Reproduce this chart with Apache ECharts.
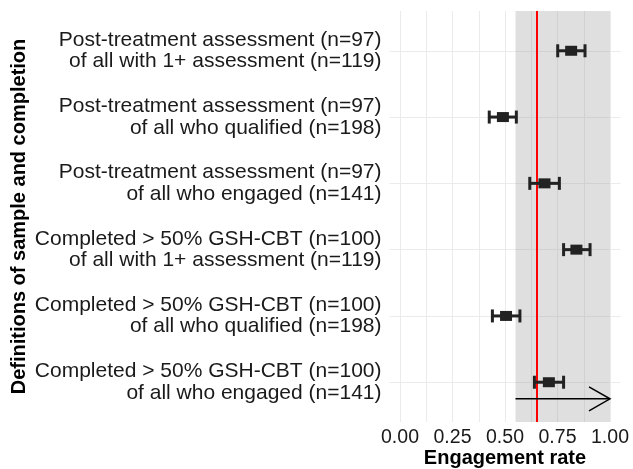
<!DOCTYPE html>
<html>
<head>
<meta charset="utf-8">
<script src="https://cdn.jsdelivr.net/npm/echarts@6/dist/echarts.min.js"></script>
<style>html,body{margin:0;padding:0;background:#fff}#c{width:633px;height:469px}</style>
</head>
<body>
<div id="c"></div>
<script>
var categories = [
  "Post-treatment assessment (n=97)\nof all with 1+ assessment (n=119)",
  "Post-treatment assessment (n=97)\nof all who qualified (n=198)",
  "Post-treatment assessment (n=97)\nof all who engaged (n=141)",
  "Completed > 50% GSH-CBT (n=100)\nof all with 1+ assessment (n=119)",
  "Completed > 50% GSH-CBT (n=100)\nof all who qualified (n=198)",
  "Completed > 50% GSH-CBT (n=100)\nof all who engaged (n=141)"
];
var rates = [0.815, 0.490, 0.688, 0.840, 0.505, 0.709];
var lower = [0.751, 0.425, 0.618, 0.779, 0.440, 0.640];
var upper = [0.881, 0.554, 0.759, 0.905, 0.571, 0.779];
var xTickLabels = [0, 0.25, 0.5, 0.75, 1.0];
var xGridValues = [0, 0.125, 0.25, 0.375, 0.5, 0.625, 0.75, 0.875, 1.0];
var shadeRange = [0.55, 1.0];
var refLine = 0.65;
var arrowData = [[0.55, 1.0, 0.75]];

var n = categories.length;
var rowPos = categories.map(function (_, i) { return n - i; });
var font = "'Liberation Sans', Arial, sans-serif";

var chart = echarts.init(document.getElementById('c'), null, {renderer: 'canvas'});
chart.setOption({
  animation: false,
  backgroundColor: '#ffffff',
  grid: {left: 389.5, right: 12.5, top: 11, bottom: 47, containLabel: false, outerBoundsMode: 'none'},
  xAxis: {
    type: 'value', min: -0.05, max: 1.05,
    name: 'Engagement rate', nameLocation: 'middle', nameGap: 26, nameMoveOverlap: false,
    nameTextStyle: {fontFamily: font, fontSize: 20, fontWeight: 'bold', color: '#000'},
    axisLine: {show: false},
    axisTick: {show: false, customValues: xGridValues},
    axisLabel: {customValues: xTickLabels, fontFamily: font, fontSize: 19.5, color: '#1a1a1a', margin: 6,
      formatter: function (v) { return v.toFixed(2); }},
    splitLine: {show: true, lineStyle: {color: '#ebebeb', width: 1}}
  },
  yAxis: {
    type: 'value', min: 0.4, max: n + 0.6,
    name: 'Definitions of sample and completion', nameLocation: 'middle', nameGap: 360, nameMoveOverlap: false,
    nameTextStyle: {fontFamily: font, fontSize: 20, fontWeight: 'bold', color: '#000'},
    axisLine: {show: false},
    axisTick: {show: false, customValues: rowPos},
    axisLabel: {customValues: rowPos, fontFamily: font, fontSize: 21, lineHeight: 21.5, color: '#1a1a1a', margin: 8, align: 'right',
      padding: [5, 0, 0, 0],
      formatter: function (v) { return categories[n - Math.round(v)]; }},
    splitLine: {show: true, lineStyle: {color: '#ebebeb', width: 1}}
  },
  series: [
    {
      type: 'line', data: [], z: 1, silent: true,
      markArea: {silent: true, z: 1, itemStyle: {color: 'rgba(150,150,150,0.3)'},
        data: [[{xAxis: shadeRange[0]}, {xAxis: shadeRange[1]}]]},
      markLine: {silent: true, z: 2, symbol: 'none', label: {show: false},
        lineStyle: {color: '#ff0000', width: 2, type: 'solid'},
        data: [{xAxis: refLine}]}
    },
    {
      type: 'custom', z: 3, silent: true,
      data: rowPos.map(function (y, i) { return [y, lower[i], upper[i]]; }),
      encode: {x: [1, 2], y: 0},
      renderItem: function (params, api) {
        var y = api.value(0), lo = api.value(1), hi = api.value(2);
        var p1 = api.coord([lo, y]), p2 = api.coord([hi, y]);
        var h = 6.5, st = {stroke: '#222', lineWidth: 3};
        return {type: 'group', children: [
          {type: 'line', shape: {x1: p1[0], y1: p1[1], x2: p2[0], y2: p2[1]}, style: st},
          {type: 'line', shape: {x1: p1[0], y1: p1[1] - h, x2: p1[0], y2: p1[1] + h}, style: st},
          {type: 'line', shape: {x1: p2[0], y1: p2[1] - h, x2: p2[0], y2: p2[1] + h}, style: st}
        ]};
      }
    },
    {
      type: 'scatter', z: 4, silent: true,
      symbol: 'rect', symbolSize: [12, 10],
      itemStyle: {color: '#222', opacity: 1},
      data: rowPos.map(function (y, i) { return [rates[i], y]; })
    },
    {
      type: 'custom', z: 5, silent: true,
      data: arrowData,
      encode: {x: [0, 1], y: 2},
      renderItem: function (params, api) {
        var a = api.coord([api.value(0), api.value(2)]);
        var b = api.coord([api.value(1), api.value(2)]);
        var st = {stroke: '#000', lineWidth: 1.5, fill: null};
        return {type: 'group', children: [
          {type: 'line', shape: {x1: a[0], y1: a[1], x2: b[0], y2: b[1]}, style: st},
          {type: 'polyline', shape: {points: [[b[0] - 21, b[1] - 12], [b[0], b[1]], [b[0] - 21, b[1] + 12]]}, style: st}
        ]};
      }
    }
  ]
});
</script>
</body>
</html>
